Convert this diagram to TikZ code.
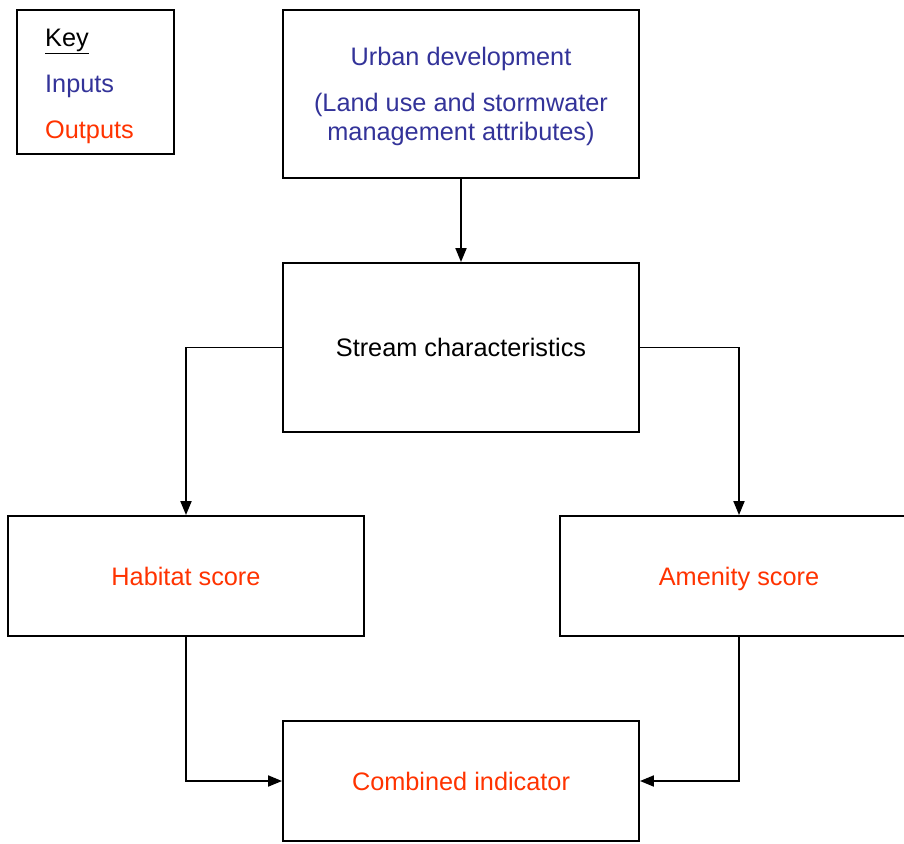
\documentclass[tikz,border=0pt]{standalone}
\usepackage{fontspec}
\setmainfont{Liberation Sans}
\usetikzlibrary{arrows.meta}
\definecolor{inblue}{RGB}{51,51,153}
\definecolor{outred}{RGB}{255,51,0}
\begin{document}
\begin{tikzpicture}[x=1pt,y=-1pt,
  every node/.style={font=\fontsize{25.3}{29}\selectfont},
  box/.style={draw=black,line width=1.9pt,fill=white,inner sep=0pt,align=center},
  wide/.style={box,minimum width=356pt},
  oneline/.style={text height=18pt,text depth=0pt},
  link/.style={line width=1.9pt,-{Triangle[length=14pt,width=11pt]}}]
\useasboundingbox (0,0) rectangle (904,843);
\clip (0,0) rectangle (904,843);

% legend
\node[box,minimum width=157pt,minimum height=144pt] (key) at (95.5,82) {};
\node[anchor=west,align=left,inner sep=0pt] (keytext) at (45,86)
  {\underline{Key}\\[17pt]\textcolor{inblue}{Inputs}\\[17pt]\textcolor{outred}{Outputs}};

% boxes
\node[wide,minimum height=168pt,text=inblue] (urban) at (461,94)
  {\rule{0pt}{24pt}Urban development\\[17pt](Land use and stormwater\\management attributes)};
\node[wide,minimum height=169pt,oneline] (stream) at (461,347.5) {Stream characteristics};
\node[wide,minimum height=120pt,oneline,text=outred] (habitat) at (186,576) {Habitat score};
\node[box,minimum width=358pt,minimum height=120pt,oneline,text=outred] (amenity) at (739,576) {Amenity score};
\node[wide,minimum height=120pt,oneline,text=outred] (combined) at (461,781) {Combined indicator};

% connectors
\draw[link] (urban) -- (stream);
\draw[link] (stream.west) -| (habitat.north);
\draw[link] (stream.east) -| (amenity.north);
\draw[link] (habitat.south) |- (combined.west);
\draw[link] (amenity.south) |- (combined.east);
\end{tikzpicture}
\end{document}
